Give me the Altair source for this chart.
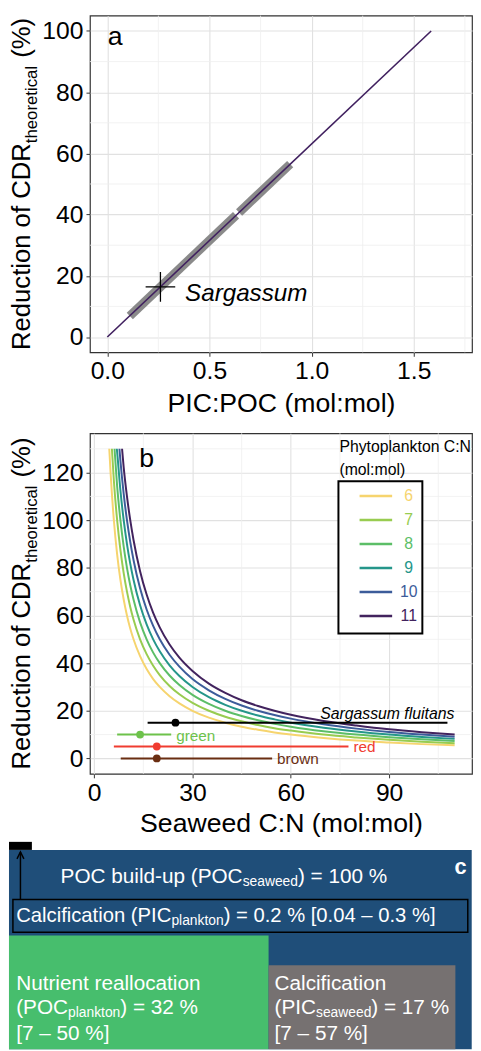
import altair as alt
import pandas as pd

FONT = "Liberation Sans"

# ======================= DATA =======================
# ---- panel a ----
a_line_x = [0.0, 1.585]
a_line_y = [0.0, 100.0]
a_band_seg = ["s1", "s1", "s2", "s2"]
a_band_x = [0.11, 0.63, 0.645, 0.895]
a_band_y = [6.9, 39.8, 40.7, 56.5]
a_sarg_x = [0.26]
a_sarg_y = [16.4]
a_xticks = [0.0, 0.5, 1.0, 1.5]
a_yticks = [0, 20, 40, 60, 80, 100]
a_xminor = [0.25, 0.75, 1.25, 1.75]
a_yminor = [10, 30, 50, 70, 90]

# ---- panel b ----
phyto_cn = ["6", "7", "8", "9", "10", "11"]
phyto_colors = ["#F6D46E", "#98CC50", "#5CBE67", "#25968A", "#3C5C9A", "#42235E"]
curve_x = {
    "6": [4.6, 5, 6, 7, 8, 9, 10, 11, 12, 14, 16, 18, 20, 23, 26, 30, 35, 40, 45, 50, 55, 60, 70, 80, 90, 100, 110],
    "7": [5.4, 6, 7, 8, 9, 10, 11, 12, 14, 16, 18, 20, 23, 26, 30, 35, 40, 45, 50, 55, 60, 70, 80, 90, 100, 110],
    "8": [6.2, 7, 8, 9, 10, 11, 12, 14, 16, 18, 20, 23, 26, 30, 35, 40, 45, 50, 55, 60, 70, 80, 90, 100, 110],
    "9": [6.9, 7, 8, 9, 10, 11, 12, 14, 16, 18, 20, 23, 26, 30, 35, 40, 45, 50, 55, 60, 70, 80, 90, 100, 110],
    "10": [7.7, 8, 9, 10, 11, 12, 14, 16, 18, 20, 23, 26, 30, 35, 40, 45, 50, 55, 60, 70, 80, 90, 100, 110],
    "11": [8.5, 9, 10, 11, 12, 14, 16, 18, 20, 23, 26, 30, 35, 40, 45, 50, 55, 60, 70, 80, 90, 100, 110],
}
curve_y = {
    "6": [130, 120, 100, 85.7, 75, 66.7, 60, 54.5, 50, 42.9, 37.5, 33.3, 30, 26.1, 23.1, 20, 17.1, 15, 13.3, 12, 10.9, 10, 8.6, 7.5, 6.7, 6, 5.5],
    "7": [130, 116.7, 100, 87.5, 77.8, 70, 63.6, 58.3, 50, 43.8, 38.9, 35, 30.4, 26.9, 23.3, 20, 17.5, 15.6, 14, 12.7, 11.7, 10, 8.8, 7.8, 7, 6.4],
    "8": [130, 114.3, 100, 88.9, 80, 72.7, 66.7, 57.1, 50, 44.4, 40, 34.8, 30.8, 26.7, 22.9, 20, 17.8, 16, 14.5, 13.3, 11.4, 10, 8.9, 8, 7.3],
    "9": [130, 128.6, 112.5, 100, 90, 81.8, 75, 64.3, 56.3, 50, 45, 39.1, 34.6, 30, 25.7, 22.5, 20, 18, 16.4, 15, 12.9, 11.3, 10, 9, 8.2],
    "10": [130, 125, 111.1, 100, 90.9, 83.3, 71.4, 62.5, 55.6, 50, 43.5, 38.5, 33.3, 28.6, 25, 22.2, 20, 18.2, 16.7, 14.3, 12.5, 11.1, 10, 9.1],
    "11": [130, 122.2, 110, 100, 91.7, 78.6, 68.8, 61.1, 55, 47.8, 42.3, 36.7, 31.4, 27.5, 24.4, 22, 20, 18.3, 15.7, 13.8, 12.2, 11, 10],
}
bar_names = ["Sargassum fluitans", "green", "red", "brown"]
bar_mid = [24.8, 14.0, 19.1, 19.1]
bar_lo = [16.3, 7.0, 6.0, 8.1]
bar_hi = [107.8, 23.5, 77.6, 54.3]
bar_y = [15, 10, 5, 0]
bar_colors = ["#000000", "#6DC24B", "#F03C30", "#6A2E12"]
b_xticks = [0, 30, 60, 90]
b_yticks = [0, 20, 40, 60, 80, 100, 120]
b_xminor = [15, 45, 75, 105]
b_yminor = [10, 30, 50, 70, 90, 110, 130]

# ---- panel c ----
c_names = ["POC build-up", "Nutrient reallocation", "Calcification seaweed", "Calcification plankton"]
c_values = [100, 32, 17, 0.2]
c_colors = ["#1F4E79", "#47BE6D", "#767171", "#000000"]

# ======================= LAYOUT / STYLE =======================
W = 387
HA, HB, HC = 341, 345, 211
LEFT = 82
GRID_MAJ = "#E1E1E1"
GRID_MIN = "#EEEEEE"
ONE = pd.DataFrame({"k": [0]})

AW = {' ': 278, '\u00a0': 278, '%': 889, '(': 333, ')': 333, '-': 333, '.': 278, ':': 278, '=': 584,
      '[': 278, ']': 278, '\u2013': 556}
for d in "0123456789":
    AW[d] = 556
AW.update(dict(A=667, B=667, C=722, D=722, E=667, F=611, G=778, H=722, I=278, J=500, K=667, L=556, M=833,
               N=722, O=778, P=667, Q=778, R=722, S=667, T=611, U=722, V=667, W=944, X=667, Y=667, Z=611,
               a=556, b=556, c=500, d=556, e=556, f=278, g=556, h=556, i=222, j=222, k=500, l=222, m=833,
               n=556, o=556, p=556, q=556, r=333, s=500, t=278, u=556, v=500, w=722, x=500, y=500, z=500))


def tw(s, size):
    return sum(AW.get(ch, 556) for ch in s) / 1000.0 * size


def txt(s, x, y, size, color="black", align="left", baseline="alphabetic", angle=0,
        style="normal", weight="normal"):
    kw = dict(text=s, fontSize=size, color=color, align=align, baseline=baseline, font=FONT,
              fontStyle=style, fontWeight=weight)
    if angle:
        kw["angle"] = angle
    return alt.Chart(ONE).mark_text(**kw).encode(x=alt.value(x), y=alt.value(y))


def pieces(parts, x0, y0, color="black", angle=0):
    """parts: (text, font size, baseline shift, gap before)"""
    out = []
    pos = 0.0
    for s, size, shift, gap in parts:
        pos += gap
        if angle == 270:
            out.append(txt(s, x0 + shift, y0 - pos, size, color, angle=270))
        else:
            out.append(txt(s, x0 + pos, y0 + shift, size, color))
        pos += tw(s, size)
    return out


def ytitle(H):
    parts = [("Reduction of CDR", 26, 0, 0), ("theoretical", 17, 8, 0), ("(%)", 26, 0, 8)]
    total = sum(tw(s, z) + g for s, z, _, g in parts)
    x0 = -LEFT + 0.8 * 26
    return pieces(parts, x0, H / 2 + total / 2, angle=270)


def mk_axis(values, title=None, fmt=None, title_pad=8):
    kw = dict(values=values, grid=True, gridColor=GRID_MAJ, gridWidth=1.1, tickSize=4,
              tickColor="#333333", tickWidth=1, labelPadding=3, domain=False, labelFontSize=25,
              labelColor="black", labelFont=FONT, labelFlush=False, labelOverlap=False)
    if title:
        kw.update(title=title, titleFontSize=27, titleFont=FONT, titleColor="black",
                  titleFontWeight="normal", titlePadding=title_pad)
    else:
        kw["title"] = None
    if fmt:
        kw["format"] = fmt
    return alt.Axis(**kw)


def extender(y):
    return alt.Chart(ONE).mark_rule(opacity=0, strokeWidth=1).encode(
        x=alt.value(0), x2=alt.value(1), y=alt.value(y), y2=alt.value(y))


VIEW = alt.ViewBackground(stroke="#333333", strokeWidth=1.2)

# ======================= PANEL A =======================
SXA = alt.Scale(domain=[-0.085, 1.785], nice=False, zero=False)
SYA = alt.Scale(domain=[-5, 105], nice=False, zero=False)
AXA = mk_axis(a_xticks, "PIC:POC (mol:mol)", ".1f", title_pad=7)
AYA = mk_axis(a_yticks)


def XA(f):
    return alt.X(f, type="quantitative", scale=SXA, axis=AXA)


def YA(f):
    return alt.Y(f, type="quantitative", scale=SYA, axis=AYA)


a_minx = alt.Chart(pd.DataFrame({"v": a_xminor})).mark_rule(color=GRID_MIN, strokeWidth=0.8).encode(x=XA("v"))
a_miny = alt.Chart(pd.DataFrame({"v": a_yminor})).mark_rule(color=GRID_MIN, strokeWidth=0.8).encode(y=YA("v"))
a_band = alt.Chart(pd.DataFrame({"x": a_band_x, "y": a_band_y, "s": a_band_seg})).mark_line(
    color="#8A8A8A", strokeWidth=9, strokeCap="butt").encode(x=XA("x"), y=YA("y"), detail="s:N")
a_line = alt.Chart(pd.DataFrame({"x": a_line_x, "y": a_line_y})).mark_line(
    color="#40205F", strokeWidth=1.6).encode(x=XA("x"), y=YA("y"))
sarg_df = pd.DataFrame({"x": a_sarg_x, "y": a_sarg_y})
a_cross = alt.Chart(sarg_df).mark_point(shape="M-1,0L1,0M0,-1L0,1", size=900, filled=False,
                                        stroke="black", strokeWidth=1.3, opacity=1).encode(x=XA("x"), y=YA("y"))
a_lab = alt.Chart(sarg_df).mark_text(text="Sargassum", align="left", baseline="middle", dx=25, dy=7,
                                     fontSize=24.5, fontStyle="italic", font=FONT, color="black").encode(
    x=XA("x"), y=YA("y"))

panel_a = alt.layer(
    a_minx, a_miny, a_band, a_line, a_cross, a_lab,
    txt("a", 18, 30, 27),
    *ytitle(HA),
    extender(420.5),
).properties(width=W, height=HA, view=VIEW)

# ======================= PANEL B =======================
SXB = alt.Scale(domain=[-1.3, 115.3], nice=False, zero=False)
SYB = alt.Scale(domain=[-6.5, 136.5], nice=False, zero=False)
AXB = mk_axis(b_xticks, "Seaweed C:N (mol:mol)", title_pad=5)
AYB = mk_axis(b_yticks)


def XB(f):
    return alt.X(f, type="quantitative", scale=SXB, axis=AXB)


def YB(f):
    return alt.Y(f, type="quantitative", scale=SYB, axis=AYB)


rows = []
for c in phyto_cn:
    for xv, yv in zip(curve_x[c], curve_y[c]):
        rows.append({"phyto": c, "x": xv, "y": yv})
curves_df = pd.DataFrame(rows)

legend_colors_expr = "[" + ",".join("'%s'" % col for col in phyto_colors) + "][datum.index]"
BOX_L, BOX_T, BOX_W, BOX_H = W - 135.3, 48.7, 85, 154
legend = alt.Legend(title=None, orient="none", legendX=BOX_L, legendY=BOX_T + 6.8,
                    symbolType="M-3,0L3,0", symbolSize=121, symbolStrokeWidth=2.5,
                    symbolOffset=29.9, labelOffset=25.3, labelAlign="center", labelBaseline="middle",
                    labelFontSize=16, labelFont=FONT, rowPadding=8.3, padding=0,
                    labelColor={"expr": legend_colors_expr})

b_minx = alt.Chart(pd.DataFrame({"v": b_xminor})).mark_rule(color=GRID_MIN, strokeWidth=0.8).encode(x=XB("v"))
b_miny = alt.Chart(pd.DataFrame({"v": b_yminor})).mark_rule(color=GRID_MIN, strokeWidth=0.8).encode(y=YB("v"))
b_box = alt.Chart(ONE).mark_rect(fill="white", stroke="black", strokeWidth=2).encode(
    x=alt.value(BOX_L), x2=alt.value(BOX_L + BOX_W), y=alt.value(BOX_T), y2=alt.value(BOX_T + BOX_H))
b_curves = alt.Chart(curves_df).mark_line(strokeWidth=2, interpolate="monotone").encode(
    x=XB("x"), y=YB("y"),
    color=alt.Color("phyto:N", scale=alt.Scale(domain=phyto_cn, range=phyto_colors), legend=legend))
bars_df = pd.DataFrame({"name": bar_names, "mid": bar_mid, "lo": bar_lo, "hi": bar_hi,
                        "yv": bar_y, "col": bar_colors})
b_rules = alt.Chart(bars_df).mark_rule(strokeWidth=2).encode(
    x=XB("lo"), x2="hi", y=YB("yv"), stroke=alt.Stroke("col:N", scale=None))
b_pts = alt.Chart(bars_df).mark_circle(size=62, opacity=1).encode(
    x=XB("mid"), y=YB("yv"), fill=alt.Fill("col:N", scale=None))
b_labs = alt.Chart(bars_df).transform_filter("datum.name != 'Sargassum fluitans'").mark_text(
    align="left", baseline="middle", dx=5, dy=1, fontSize=15.5, font=FONT).encode(
    x=XB("hi"), y=YB("yv"), text="name:N", fill=alt.Fill("col:N", scale=None))
b_sf = alt.Chart(bars_df).transform_filter("datum.name == 'Sargassum fluitans'").mark_text(
    align="right", baseline="middle", dx=7, dy=-9, fontSize=16, fontStyle="italic", font=FONT,
    color="black").encode(x=XB("hi"), y=YB("yv"), text="name:N")

panel_b = alt.layer(
    b_minx, b_miny, b_box, b_curves, b_rules, b_pts, b_labs, b_sf,
    txt("Phytoplankton C:N", BOX_L + 1, 14.3, 16, baseline="middle"),
    txt("(mol:mol)", BOX_L + 1, 37.7, 16, baseline="middle"),
    txt("b", 50, 34.3, 27),
    *ytitle(HB),
    extender(410.5),
).properties(width=W, height=HB, view=VIEW)

# ======================= PANEL C =======================
C_RIGHT = 386.7
SXC = alt.Scale(domain=[0, 1], range=[-LEFT, C_RIGHT], nice=False, zero=False)
SYC = alt.Scale(domain=[0, 1.0446], nice=False, zero=False)
w_green, w_gray, w_black = 0.561, 0.4037, 0.0495   # layout widths (fractions of the blue block)
vals = dict(zip(c_names, c_values))
tot = vals["POC build-up"]
rects = pd.DataFrame({
    "x": [0, 0, w_green, 0],
    "x2": [1, w_green, w_green + w_gray, w_black],
    "y": [0, 0, 0, 1],
    "y2": [1,
           vals["Nutrient reallocation"] / tot / w_green,
           vals["Calcification seaweed"] / tot / w_gray,
           1 + vals["Calcification plankton"] / tot / w_black],
    "col": c_colors,
})


def XC(f):
    return alt.X(f, type="quantitative", scale=SXC, axis=None)


def YC(f):
    return alt.Y(f, type="quantitative", scale=SYC, axis=None)


c_rects = alt.Chart(rects).mark_rect().encode(
    x=XC("x"), x2="x2", y=YC("y"), y2="y2", fill=alt.Fill("col:N", scale=None))
BOX_FR = pd.DataFrame({"x": [0.0085], "x2": [0.9915], "y": [0.5866], "y2": [0.751]})
c_box = alt.Chart(BOX_FR).mark_rect(fillOpacity=0, stroke="black", strokeWidth=1.5).encode(
    x=XC("x"), x2="x2", y=YC("y"), y2="y2")
ARROW = pd.DataFrame({"x": [w_black / 2], "y": [0.751], "y2": [0.99]})
c_arrow = alt.Chart(ARROW).mark_rule(color="black", strokeWidth=1.5).encode(
    x=XC("x"), y=YC("y"), y2="y2")
c_head = alt.Chart(ARROW).mark_point(shape="M-1,2L0,0L1,2", size=49, filled=False, stroke="black",
                                     strokeWidth=1.5, opacity=1).encode(x=XC("x"), y=YC("y2"))


def cx(page_x):
    return -LEFT + (page_x - 6)


WH = "white"
c_texts = []
c_texts += pieces([("POC build-up (POC", 21, 0, 0), ("seaweed", 14, 3, 0), (") = 100 %", 21, 0, 0)],
                  cx(58.3), 42.3, WH)
c_texts += pieces([("Calcification (PIC", 20.5, 0, 0), ("plankton", 14, 3, 0),
                   (") = 0.2 % [0.04 \u2013 0.3 %]", 20.5, 0, 0)], cx(13.3), 81.7, WH)
c_texts += [txt("Nutrient reallocation", cx(13.3), 150.7, 21, WH)]
c_texts += pieces([("(POC", 21, 0, 0), ("plankton", 14, 3, 0), (") = 32 %", 21, 0, 0)],
                  cx(13.3), 175.7, WH)
c_texts += [txt("[7 \u2013 50 %]", cx(13.3), 201.7, 21, WH)]
c_texts += [txt("Calcification", cx(275), 150.7, 21, WH)]
c_texts += pieces([("(PIC", 21, 0, 0), ("seaweed", 14, 3, 0), (") = 17 %", 21, 0, 0)],
                  cx(275), 175.7, WH)
c_texts += [txt("[7 \u2013 57 %]", cx(275), 201.7, 21, WH)]
c_texts += [txt("c", cx(463.3), 26.7, 22, WH, align="center", baseline="middle", weight="bold")]

panel_c = alt.layer(c_rects, c_box, c_arrow, c_head, *c_texts).properties(width=W, height=HC)

# ======================= COMPOSE =======================
chart = alt.vconcat(panel_a, panel_b, panel_c, spacing=0).resolve_scale(
    color="independent").properties(padding=0).configure_view(stroke="transparent").configure_text(font=FONT)

chart.save("out.html", embed_options={"renderer": "svg", "actions": False})
